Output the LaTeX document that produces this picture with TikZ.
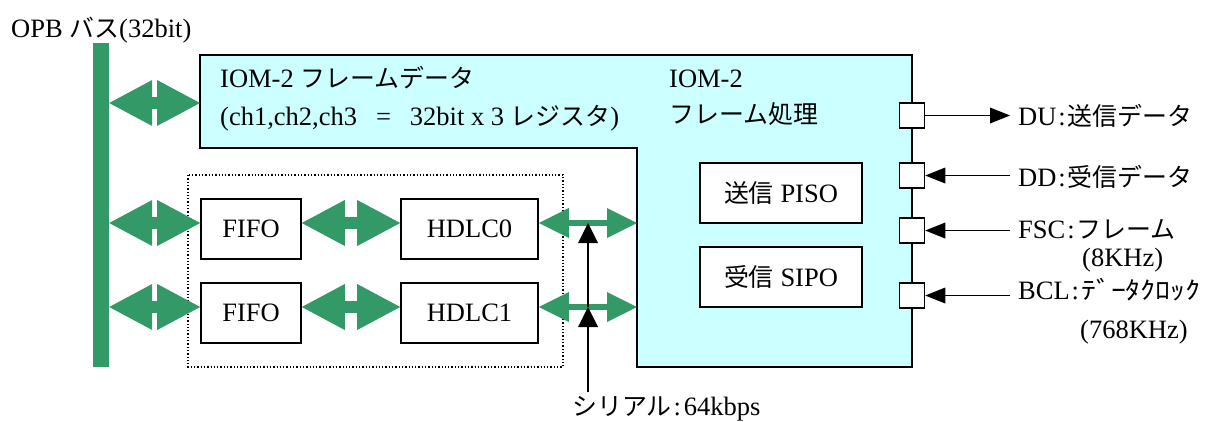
\documentclass[tikz,border=0pt]{standalone}
\usepackage{fontspec}
\setmainfont{Liberation Serif}
\newfontfamily\jp{Noto Sans CJK JP}[Scale=0.94]
\newfontfamily\jphw{Noto Sans CJK JP}[Scale=0.94,FakeStretch=1.2]
\usetikzlibrary{arrows.meta}
\definecolor{busgreen}{RGB}{51,153,102}
\definecolor{framecyan}{RGB}{204,255,255}

\begin{document}
\begin{tikzpicture}[x=1pt,y=-1pt,
  font=\fontsize{26.5}{31}\selectfont,
  txt/.style={inner sep=0pt, anchor=base west},
  blockbox/.style={draw, line width=1.6pt, fill=white, inner sep=0pt, minimum height=60pt},
  port/.style={draw, line width=1.5pt, fill=white, minimum size=25pt, inner sep=0pt},
  busarrow/.style={busgreen, line width=12pt,
    {Triangle[length=43pt,width=46pt,line width=0pt]}-{Triangle[length=43pt,width=46pt,line width=0pt]}},
  linkarrow/.style={busgreen, line width=6pt,
    {Triangle[length=30pt,width=30pt,line width=0pt]}-{Triangle[length=30pt,width=30pt,line width=0pt]}},
  serline/.style={line width=2pt, -{Triangle[length=20pt,width=20pt,line width=0pt]}},
  sig/.style={line width=1.8pt, -{Triangle[length=20pt,width=16pt,line width=0pt]}},
]
\fill[white] (0,0) rectangle (1205,421);
\useasboundingbox (0,0) rectangle (1205,421);

% OPB bus
\node[txt] (opb) at (11,37) {OPB {\jp バス}(32bit)};
\node[fill=busgreen, minimum width=16pt, minimum height=324pt, inner sep=0pt] (bus) at (101,205) {};

% IOM-2 frame block (L-shaped outline)
\draw[line width=1.6pt, fill=framecyan]
  (200,55) -- (912,55) -- (912,367) -- (637,367) -- (637,148) -- (200,148) -- cycle;
\coordinate (iomTopW) at (200,103);
\coordinate (iomLowW) at (637,300);

\node[txt] (iomt1) at (220,87) {IOM-2 {\jp フレームデータ}};
\node[txt] (iomt2) at (220,125) {(ch1,ch2,ch3\hspace{19pt}=\hspace{19pt}32bit x 3 {\jp レジスタ})};
\node[txt] (proc1) at (669,87) {IOM-2};
\node[txt] (proc2) at (669,123) {\jp フレーム処理};

\node[blockbox, minimum width=162pt] (piso) at (781,193) {{\jp 送信} PISO};
\node[blockbox, minimum width=162pt] (sipo) at (781,277) {{\jp 受信} SIPO};

% FIFO / HDLC group
\draw[dotted, line width=1.3pt] (188,175) rectangle (563,367);
\node[blockbox, minimum width=100pt] (fifo0) at (251,229) {FIFO};
\node[blockbox, minimum width=100pt] (fifo1) at (251,313) {FIFO};
\node[blockbox, minimum width=137pt] (hdlc0) at (469.5,229) {HDLC0};
\node[blockbox, minimum width=137pt] (hdlc1) at (469.5,313) {HDLC1};

\coordinate (r0) at ([yshift=6pt]fifo0.west);
\coordinate (r1) at ([yshift=6pt]fifo1.west);

% data paths
\draw[busarrow] (bus.east |- iomTopW) -- (iomTopW);
\draw[busarrow] (bus.east |- r0) -- (r0);
\draw[busarrow] (bus.east |- r1) -- (r1);
\draw[busarrow] (fifo0.east |- r0) -- (hdlc0.west |- r0);
\draw[busarrow] (fifo1.east |- r1) -- (hdlc1.west |- r1);
\draw[linkarrow] (hdlc0.east |- r0) -- (iomLowW |- r0);
\draw[linkarrow] (hdlc1.east |- r1) -- (iomLowW |- r1);

% serial input
\node[txt] (serlbl) at (572,415) {{\jp シリアル}\kern2pt:\kern3pt64kbps};
\coordinate (ser) at (588,392);
\draw[serline] (ser) -- (ser |- r1);
\draw[serline] (ser |- r1) -- (ser |- r0);

% IOM-2 ports
\node[port] (pDU)  at (912,115.5) {};
\node[port] (pDD)  at (912,175.5) {};
\node[port] (pFSC) at (912,230.5) {};
\node[port] (pBCL) at (912,295.5) {};

\node[txt, inner xsep=8pt] (lDU)  at (1010,125) {DU\kern2pt:\kern2pt{\jp 送信データ}};
\node[txt, inner xsep=8pt] (lDD)  at (1010,186) {DD\kern2pt:\kern2pt{\jp 受信データ}};
\node[txt, inner xsep=8pt] (lFSC) at (1010,238) {FSC\kern2pt:\kern2pt{\jp フレーム}};
\node[txt] (lFSC2) at (1082,266) {(8KHz)};
\node[txt, inner xsep=8pt] (lBCL) at (1010,299) {BCL\kern2pt:\kern2pt{\jphw ﾃﾞｰﾀｸﾛｯｸ}};
\node[txt] (lBCL2) at (1080,338) {(768KHz)};

\draw[sig] (pDU.east) -- (lDU.west |- pDU.east);
\draw[sig] (lDD.west |- pDD.east) -- (pDD.east);
\draw[sig] (lFSC.west |- pFSC.east) -- (pFSC.east);
\draw[sig] (lBCL.west |- pBCL.east) -- (pBCL.east);
\end{tikzpicture}
\end{document}
